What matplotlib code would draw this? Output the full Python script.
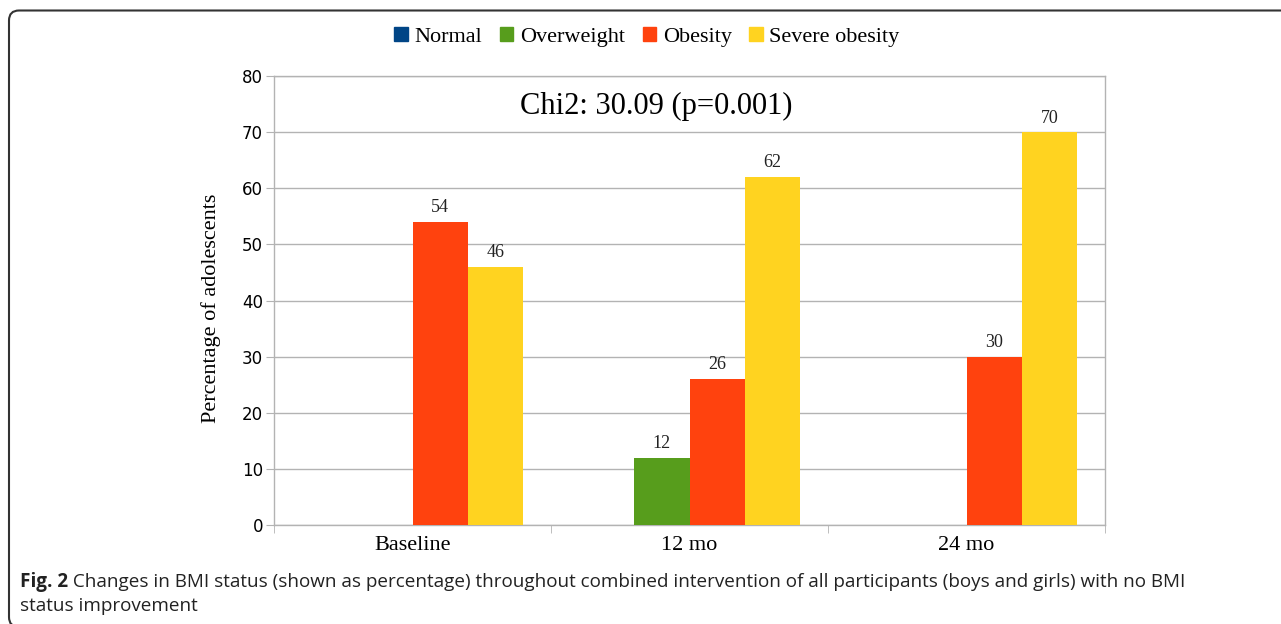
import numpy as np
import matplotlib
matplotlib.use("Agg")
import matplotlib.pyplot as plt
from matplotlib.patches import FancyBboxPatch, Patch
from matplotlib.transforms import IdentityTransform, blended_transform_factory

# BMI status shares (%) per time point
periods = ["Baseline", "12 mo", "24 mo"]
status = ["Normal", "Overweight", "Obesity", "Severe obesity"]
normal = [0, 0, 0]
overweight = [0, 12, 0]
obesity = [54, 26, 30]
severe = [46, 62, 70]
colors = ["#004586", "#579d1c", "#ff420e", "#ffd320"]

serif = "Liberation Serif"
grey = "#b3b3b3"

fig = plt.figure(figsize=(12.81, 6.24), dpi=100)
ax = fig.add_axes([274 / 1281, 99 / 624, 831 / 1281, 449 / 624])

x = np.arange(len(periods))
w = 0.2
series = [normal, overweight, obesity, severe]
for i, (vals, c) in enumerate(zip(series, colors)):
    pos = x + (i - 1.5) * w
    ax.bar(pos, vals, width=w, color=c, zorder=3, linewidth=0)
    for p, v in zip(pos, vals):
        if v > 0:
            ax.text(p, v + 1.0, str(v), ha="center", va="bottom",
                    fontsize=13, family=serif, color="#222222")

ax.set_xlim(-0.5, 2.5)
ax.set_ylim(0, 80)
ax.set_yticks(range(0, 81, 10))
ax.yaxis.grid(True, color=grey, linewidth=1, zorder=0)
ax.set_axisbelow(True)
for s in ax.spines.values():
    s.set_color(grey)
    s.set_linewidth(1)
ax.tick_params(axis="y", length=6, color=grey, labelsize=12, pad=2)
ax.set_xticks(x)
ax.set_xticklabels(periods, fontsize=16, family=serif)
ax.tick_params(axis="x", length=0, pad=8)
ax.set_xticks([-0.5, 0.5, 1.5, 2.5], minor=True)
ax.tick_params(axis="x", which="minor", length=6, color=grey)

ax.set_ylabel("Percentage of adolescents", fontsize=16, family=serif)
ax.yaxis.set_label_coords(-0.064, 0.483)
ax.text(0.46, 74.6, "Chi2: 30.09 (p=0.001)",
        transform=blended_transform_factory(ax.transAxes, ax.transData),
        ha="center", va="center", fontsize=22, family=serif)

handles = [Patch(color=c) for c in colors]
fig.legend(handles, status, loc="center", bbox_to_anchor=(647 / 1281, 1 - 37 / 624),
           ncol=4, frameon=False, prop={"family": serif, "size": 16},
           handlelength=0.6, handleheight=0.6, handletextpad=0.3, columnspacing=0.8)

# caption under the chart
cap_font = dict(fontsize=13.6, family="Open Sans", color="#222222")
cap = fig.text(20 / 1281, 1 - 582 / 624, "Fig. 2", weight="bold", va="center", **cap_font)
ax.annotate(" Changes in BMI status (shown as percentage) throughout combined intervention of all participants (boys and girls) with no BMI",
            xy=(1, 0.5), xycoords=cap, va="center", ha="left",
            annotation_clip=False, **cap_font)
fig.text(20 / 1281, 1 - 606 / 624, "status improvement", va="center", **cap_font)

frame = FancyBboxPatch((9, -3), 1400, 616.5, boxstyle="round,pad=0,rounding_size=10",
                       transform=IdentityTransform(), fill=False, edgecolor="#333333",
                       linewidth=1.5)
fig.patches.append(frame)

fig.savefig("out.png", dpi=100)
